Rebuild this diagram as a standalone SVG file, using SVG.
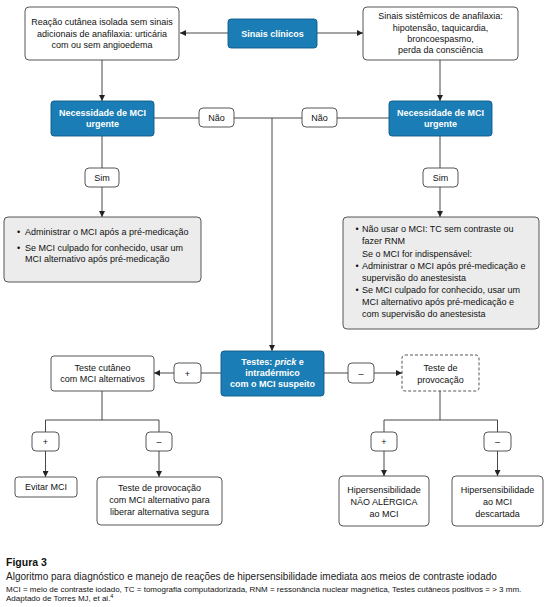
<svg xmlns="http://www.w3.org/2000/svg" width="550" height="607" viewBox="0 0 550 607">
<defs>
<marker id="ah" viewBox="0 0 10 10" refX="10" refY="5" markerWidth="6" markerHeight="6" markerUnits="userSpaceOnUse" orient="auto"><path d="M0,0 L10,5 L0,10 z" fill="#222"/></marker>
<style>
text{font-family:"Liberation Sans",Arial,sans-serif;font-size:9px;fill:#111}
.c{text-anchor:middle}
.w{fill:#fff;font-weight:bold}
.box{fill:#fff;stroke:#444;stroke-width:0.9}
.blue{fill:#1a7db5;stroke:#0d5a86;stroke-width:0.9}
.gray{fill:#ececec;stroke:#444;stroke-width:0.9}
.dash{fill:#fff;stroke:#444;stroke-width:0.9;stroke-dasharray:3,2}
.lbl{fill:#fff;stroke:#444;stroke-width:0.9}
.ln{fill:none;stroke:#333;stroke-width:0.9}
.ar{fill:none;stroke:#333;stroke-width:0.9;marker-end:url(#ah)}
</style>
</defs>
<rect width="550" height="607" fill="#fff"/>

<g id="connectors">
<line class="ar" x1="228" y1="33" x2="180" y2="33"/>
<line class="ar" x1="317" y1="33" x2="363" y2="33"/>
<line class="ar" x1="102" y1="60" x2="102" y2="101"/>
<line class="ar" x1="440" y1="60" x2="440" y2="101"/>
<line class="ln" x1="154" y1="118" x2="389" y2="118"/>
<line class="ar" x1="272" y1="118" x2="272" y2="351"/>
<line class="ln" x1="102" y1="136" x2="102" y2="168"/>
<line class="ar" x1="102" y1="187" x2="102" y2="217"/>
<line class="ln" x1="440" y1="136" x2="440" y2="168"/>
<line class="ar" x1="440" y1="187" x2="440" y2="217"/>
<line class="ln" x1="221" y1="373" x2="201" y2="373"/>
<line class="ar" x1="174" y1="373" x2="154" y2="373"/>
<line class="ln" x1="324" y1="373" x2="348" y2="373"/>
<line class="ar" x1="374" y1="373" x2="402" y2="373"/>
<polyline class="ln" points="102,391 102,420"/>
<polyline class="ln" points="45.5,432 45.5,420 159,420 159,432"/>
<line class="ar" x1="45.5" y1="451" x2="45.5" y2="477"/>
<line class="ar" x1="159" y1="451" x2="159" y2="477"/>
<polyline class="ln" points="440,391 440,420"/>
<polyline class="ln" points="384,432 384,420 497.5,420 497.5,432"/>
<line class="ar" x1="384" y1="451" x2="384" y2="476"/>
<line class="ar" x1="497.5" y1="451" x2="497.5" y2="476"/>
</g>

<g id="n-sinais">
<rect class="blue" x="228" y="19" width="89" height="29" rx="3"/>
<text class="c w" x="272.5" y="37">Sinais clínicos</text>
</g>
<g id="n-cutanea">
<rect class="box" x="25" y="7" width="154" height="53" rx="4"/>
<text class="c" x="102" y="25">Reação cutânea isolada sem sinais</text>
<text class="c" x="102" y="36.5">adicionais de anafilaxia: urticária</text>
<text class="c" x="102" y="47.5">com ou sem angioedema</text>
</g>
<g id="n-sistemicos">
<rect class="box" x="363" y="7" width="155" height="53" rx="4"/>
<text class="c" x="440.5" y="19">Sinais sistêmicos de anafilaxia:</text>
<text class="c" x="440.5" y="30.5">hipotensão, taquicardia,</text>
<text class="c" x="440.5" y="42">broncoespasmo,</text>
<text class="c" x="440.5" y="53">perda da consciência</text>
</g>
<g id="n-urg-left">
<rect class="blue" x="51" y="101" width="103" height="35" rx="3"/>
<text class="c w" x="102.5" y="116">Necessidade de MCI</text>
<text class="c w" x="102.5" y="127">urgente</text>
</g>
<g id="n-urg-right">
<rect class="blue" x="389" y="101" width="103" height="35" rx="3"/>
<text class="c w" x="440.5" y="116">Necessidade de MCI</text>
<text class="c w" x="440.5" y="127">urgente</text>
</g>
<g id="l-nao-left">
<rect class="lbl" x="199" y="108" width="35" height="19" rx="4"/>
<text class="c" x="216.5" y="121">Não</text>
</g>
<g id="l-nao-right">
<rect class="lbl" x="302" y="108" width="35" height="19" rx="4"/>
<text class="c" x="319.5" y="121">Não</text>
</g>
<g id="l-sim-left">
<rect class="lbl" x="85" y="168" width="34" height="19" rx="4"/>
<text class="c" x="102" y="181">Sim</text>
</g>
<g id="l-sim-right">
<rect class="lbl" x="423" y="168" width="35" height="19" rx="4"/>
<text class="c" x="440.5" y="181">Sim</text>
</g>
<g id="n-admin-left">
<rect class="gray" x="4" y="217" width="197" height="65" rx="4"/>
<text x="17" y="235">•</text><text x="25" y="235">Administrar o MCI após a pré-medicação</text>
<text x="17" y="250.5">•</text><text x="25" y="250.5">Se MCI culpado for conhecido, usar um</text>
<text x="25" y="262">MCI alternativo após pré-medicação</text>
</g>
<g id="n-admin-right">
<rect class="gray" x="343" y="217" width="196" height="112" rx="4"/>
<text x="355.5" y="232">•</text><text x="362" y="232">Não usar o MCI: TC sem contraste ou</text>
<text x="362" y="244">fazer RNM</text>
<text x="362" y="257">Se o MCI for indispensável:</text>
<text x="355.5" y="269">•</text><text x="362" y="269">Administrar o MCI após pré-medicação e</text>
<text x="362" y="280.5">supervisão do anestesista</text>
<text x="355.5" y="293">•</text><text x="362" y="293">Se MCI culpado for conhecido, usar um</text>
<text x="362" y="305">MCI alternativo após pré-medicação e</text>
<text x="362" y="316.5">com supervisão do anestesista</text>
</g>
<g id="n-testes">
<rect class="blue" x="221" y="351" width="103" height="45" rx="3"/>
<text class="c w" x="272.5" y="365">Testes: <tspan font-style="italic">prick</tspan> e</text>
<text class="c w" x="272.5" y="376">intradérmico</text>
<text class="c w" x="272.5" y="387">com o MCI suspeito</text>
</g>
<g id="l-plus-mid">
<rect class="lbl" x="174" y="363" width="27" height="20" rx="4"/>
<text class="c" x="187.5" y="376.5">+</text>
</g>
<g id="l-minus-mid">
<rect class="lbl" x="348" y="363" width="26" height="20" rx="4"/>
<text class="c" x="361" y="376.5">–</text>
</g>
<g id="n-cutaneo">
<rect class="box" x="51" y="356" width="103" height="35" rx="3"/>
<text class="c" x="102.5" y="371">Teste cutâneo</text>
<text class="c" x="102.5" y="382">com MCI alternativos</text>
</g>
<g id="n-provoc">
<rect class="dash" x="402" y="355" width="77" height="36" rx="3"/>
<text class="c" x="440.5" y="371">Teste de</text>
<text class="c" x="440.5" y="383">provocação</text>
</g>
<g id="l-plus-l">
<rect class="lbl" x="32" y="432" width="27" height="19" rx="4"/>
<text class="c" x="45.5" y="445">+</text>
</g>
<g id="l-minus-l">
<rect class="lbl" x="146" y="432" width="26" height="19" rx="4"/>
<text class="c" x="159" y="445">–</text>
</g>
<g id="l-plus-r">
<rect class="lbl" x="371" y="432" width="26" height="19" rx="4"/>
<text class="c" x="384" y="445">+</text>
</g>
<g id="l-minus-r">
<rect class="lbl" x="484" y="432" width="27" height="19" rx="4"/>
<text class="c" x="497.5" y="445">–</text>
</g>
<g id="n-evitar">
<rect class="box" x="15" y="477" width="62" height="20" rx="3"/>
<text class="c" x="46" y="490">Evitar MCI</text>
</g>
<g id="n-provoc-alt">
<rect class="box" x="97" y="477" width="125" height="48" rx="4"/>
<text class="c" x="159.5" y="491">Teste de provocação</text>
<text class="c" x="159.5" y="503">com MCI alternativo para</text>
<text class="c" x="159.5" y="515">liberar alternativa segura</text>
</g>
<g id="n-nao-alergica">
<rect class="box" x="339" y="476" width="90" height="50" rx="4"/>
<text class="c" x="384" y="493">Hipersensibilidade</text>
<text class="c" x="384" y="505">NÃO ALÉRGICA</text>
<text class="c" x="384" y="516.5">ao MCI</text>
</g>
<g id="n-descartada">
<rect class="box" x="452" y="476" width="91" height="50" rx="4"/>
<text class="c" x="497.5" y="493">Hipersensibilidade</text>
<text class="c" x="497.5" y="505">ao MCI</text>
<text class="c" x="497.5" y="516.5">descartada</text>
</g>

<g id="caption">
<text x="6" y="566" style="font-size:10.5px;font-weight:bold">Figura 3</text>
<text x="6" y="580" style="font-size:10px;fill:#222">Algoritmo para diagnóstico e manejo de reações de hipersensibilidade imediata aos meios de contraste iodado</text>
<text x="6" y="591.5" style="font-size:8px">MCI = meio de contraste iodado, TC = tomografia computadorizada, RNM = ressonância nuclear magnética, Testes cutâneos positivos = &gt; 3 mm.</text>
<text x="6" y="601" style="font-size:8px">Adaptado de Torres MJ, et al.<tspan dy="-3" style="font-size:5.5px">4</tspan></text>
</g>
</svg>
